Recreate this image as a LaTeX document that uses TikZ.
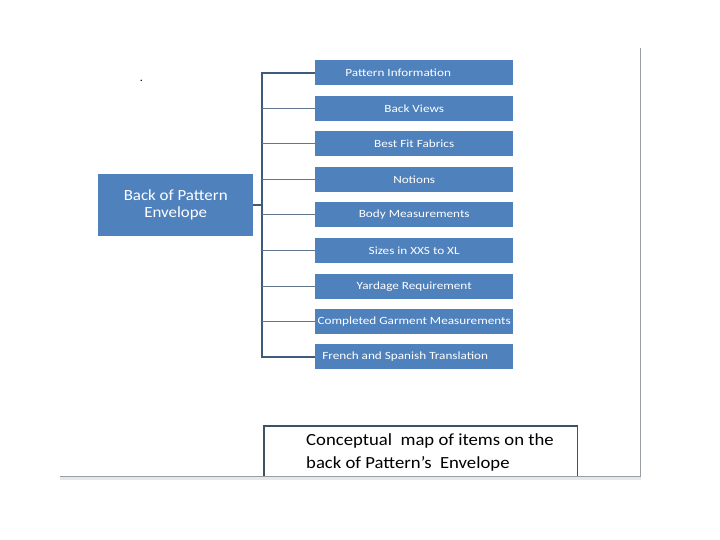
\documentclass[tikz,border=0pt]{standalone}
\usepackage{fontspec}
\setmainfont{Carlito}
\newfontfamily\childfont[FakeStretch=1.2]{Carlito}
\newfontfamily\mainboxfont[FakeStretch=1.09]{Carlito}
\newfontfamily\capfont[FakeStretch=1.1]{Carlito}
\begin{document}
\begin{tikzpicture}[x=1pt,y=-1pt,
  boxfill/.style={fill=boxblue,draw=none,text=white,inner sep=0pt,anchor=north west},
  child/.style={boxfill,minimum width=198pt,minimum height=25pt,font=\childfont\fontsize{11}{13}\selectfont},
  spine/.style={draw=linedark,line width=2pt},
  branch/.style={draw=linemid,line width=1.3pt}]
\definecolor{boxblue}{HTML}{4F81BD}
\definecolor{linedark}{HTML}{3F5B7C}
\definecolor{linemid}{HTML}{62778D}
\definecolor{framegray}{HTML}{9A9FA4}
\definecolor{capline}{HTML}{3E5266}
\useasboundingbox (0,0) rectangle (720,540);
\fill[white] (0,0) rectangle (720,540);
% frame
\fill[framegray!25] (60,477) rectangle (641,480);
\draw[framegray,line width=1.3pt] (640.5,48) -- (640.5,476.5) coordinate (fr) -- (60,476.5);
% dot
\node[font=\fontsize{12}{12}\selectfont,inner sep=0pt] (dot) at (141.5,80.5) {.};
% main box
\node[boxfill,minimum width=155pt,minimum height=62pt,align=center,font=\mainboxfont\fontsize{15.5}{17}\selectfont] (main) at (98,174) {Back of Pattern\\Envelope};
% children
\node[child] (c1) at (315,60) {\hspace*{-32pt}Pattern Information};
\node[child] (c2) at (315,96) {Back Views};
\node[child] (c3) at (315,131) {Best Fit Fabrics};
\node[child] (c4) at (315,167) {Notions};
\node[child] (c5) at (315,202) {Body Measurements};
\node[child] (c6) at (315,238) {Sizes in XXS to XL};
\node[child] (c7) at (315,274) {Yardage Requirement};
\node[child] (c8) at (315,309) {Completed Garment Measurements};
\node[child] (c9) at (315,344) {\hspace*{-18pt}French and Spanish Translation};
% spine coordinates
\foreach \i in {1,...,9} {\coordinate (s\i) at (262,0 |- c\i.west);}
\coordinate (sm) at (262,205);
\draw[spine] (main.east |- sm) -- (sm);
\draw[spine] (c1.west) -- (s1) -- (s9) -- (c9.west);
\foreach \i in {2,...,8} {\draw[branch] (s\i) -- (c\i.west);}
% caption box
\node[inner sep=0pt,anchor=north west,minimum width=313pt,minimum height=50pt] (cap) at (264,426) {};
\draw[capline,line width=1.6pt] (cap.south west) -- (cap.north west) -- (cap.north east) -- (cap.south east);
\node[anchor=north west,inner sep=0pt,align=left,font=\capfont\fontsize{17}{23}\selectfont,text=black] (captext) at (306,433) {Conceptual\ \ map of items on the\\back of Pattern’s\ \ Envelope};
\end{tikzpicture}
\end{document}
